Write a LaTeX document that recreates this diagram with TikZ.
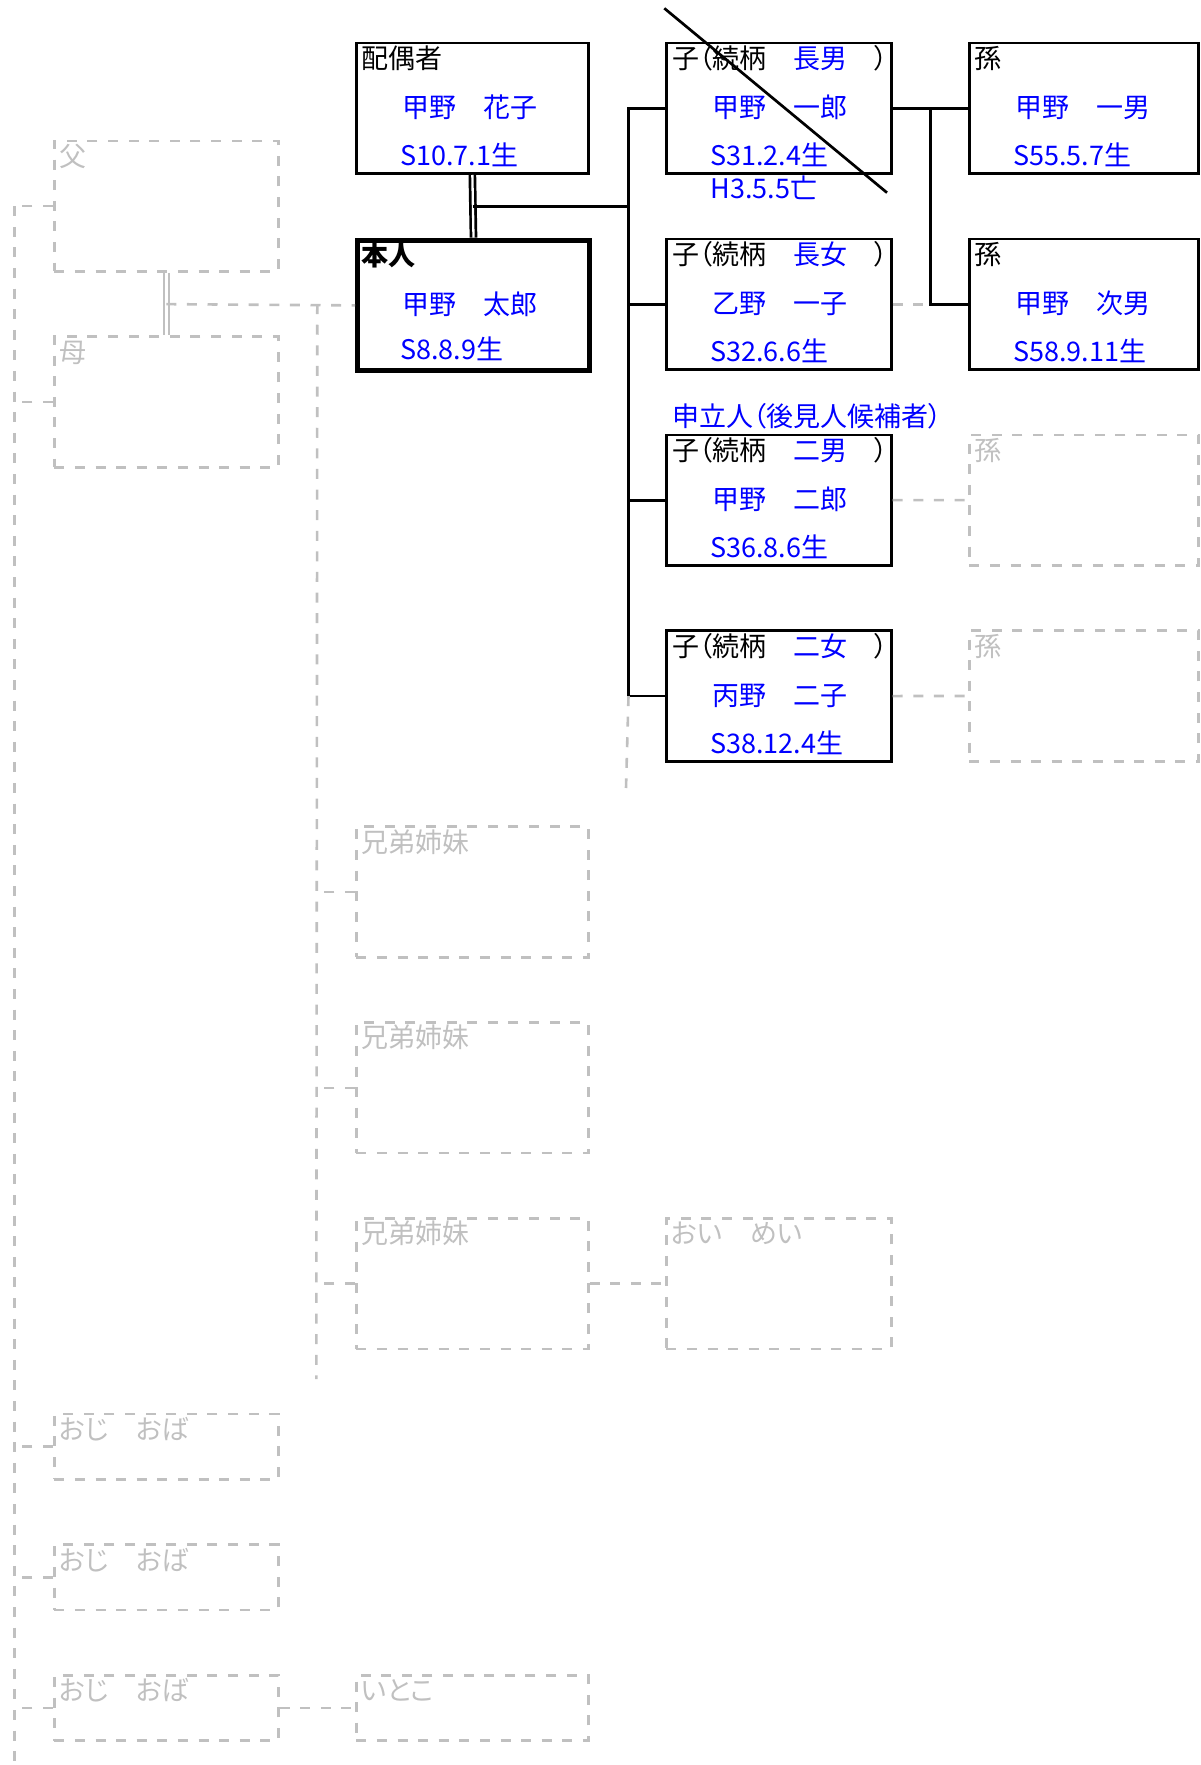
\documentclass[tikz,border=0pt]{standalone}
\usepackage{fontspec}
\setmainfont{Noto Sans CJK JP}[RawFeature=+palt]
\usetikzlibrary{calc}
\definecolor{linegray}{RGB}{192,192,192}
\tikzset{
  box/.style={draw,line width=1.35pt,anchor=north west,inner sep=0pt,minimum height=65.3pt},
  selfbox/.style={box,line width=2.5pt},
  gbox/.style={box,draw=linegray,line width=1.3pt,dash pattern=on 5pt off 5.3pt},
  halfbox/.style={minimum height=32.65pt},
  colA/.style={minimum width=112pt},
  colB/.style={minimum width=116pt},
  colC/.style={minimum width=112.5pt},
  colD/.style={minimum width=114.5pt},
  tag/.style={anchor=west,inner sep=0pt,text height=0.92em,text depth=0pt},
  gtag/.style={tag,text=linegray},
  nm/.style={tag,text=blue},
  link/.style={line width=1.35pt},
  glink/.style={draw=linegray,line width=1.3pt,dash pattern=on 5pt off 5.3pt},
  wedlink/.style={line width=1.35pt,double,double distance=1.15pt},
  gwedlink/.style={draw=linegray,line width=1.15pt,double,double distance=1.2pt}
}
\begin{document}
\begin{tikzpicture}[x=0.5pt,y=-0.5pt,font=\fontsize{13.5pt}{16pt}\selectfont]
 \useasboundingbox (0,0) rectangle (1200,1765);
 % spouse and self
 \node[box,colB] (spouse) at (355,41.7) {};
 \node[tag] (spouse-t) at ([shift={(6,17.5)}]spouse.north west) {配偶者};
 \node[nm] (spouse-n) at ([shift={(47,0)}]spouse.west) {甲野　花子};
 \node[nm] (spouse-d) at ([shift={(45,115)}]spouse.north west) {S10.7.1生};
 \node[selfbox,colB] (self) at (355,237.6) {};
 \node[tag] (self-t) at ([shift={(6,18.5)}]self.north west) {\bfseries 本人};
 \node[nm] (self-n) at ([shift={(47,0)}]self.west) {甲野　太郎};
 \node[nm] (self-d) at ([shift={(45,113)}]self.north west) {S8.8.9生};
 % children
 \node[box,colC] (kid1) at (665,41.7) {};
 \node[tag] (kid1-t) at ([shift={(7,17.5)}]kid1.north west) {子（続柄　\textcolor{blue}{長男}　）};
 \node[nm] (kid1-n) at ([shift={(47,0)}]kid1.west) {甲野　一郎};
 \node[nm] (kid1-d) at ([shift={(45,115)}]kid1.north west) {S31.2.4生};
 \node[nm] (kid1-x) at ([shift={(45,148)}]kid1.north west) {H3.5.5亡};
 \node[box,colC] (kid2) at (665,237.6) {};
 \node[tag] (kid2-t) at ([shift={(7,17.5)}]kid2.north west) {子（続柄　\textcolor{blue}{長女}　）};
 \node[nm] (kid2-n) at ([shift={(47,0)}]kid2.west) {乙野　一子};
 \node[nm] (kid2-d) at ([shift={(45,115)}]kid2.north west) {S32.6.6生};
 \node[box,colC] (kid3) at (665,433.5) {};
 \node[nm] (kid3-a) at ([shift={(7,-16)}]kid3.north west) {申立人（後見人候補者）};
 \node[tag] (kid3-t) at ([shift={(7,17.5)}]kid3.north west) {子（続柄　\textcolor{blue}{二男}　）};
 \node[nm] (kid3-n) at ([shift={(47,0)}]kid3.west) {甲野　二郎};
 \node[nm] (kid3-d) at ([shift={(45,115)}]kid3.north west) {S36.8.6生};
 \node[box,colC] (kid4) at (665,629.4) {};
 \node[tag] (kid4-t) at ([shift={(7,17.5)}]kid4.north west) {子（続柄　\textcolor{blue}{二女}　）};
 \node[nm] (kid4-n) at ([shift={(47,0)}]kid4.west) {丙野　二子};
 \node[nm] (kid4-d) at ([shift={(45,115)}]kid4.north west) {S38.12.4生};
 % grandchildren
 \node[box,colD] (gc1) at (968,41.7) {};
 \node[tag] (gc1-t) at ([shift={(6,17.5)}]gc1.north west) {孫};
 \node[nm] (gc1-n) at ([shift={(47,0)}]gc1.west) {甲野　一男};
 \node[nm] (gc1-d) at ([shift={(45,115)}]gc1.north west) {S55.5.7生};
 \node[box,colD] (gc2) at (968,237.6) {};
 \node[tag] (gc2-t) at ([shift={(6,17.5)}]gc2.north west) {孫};
 \node[nm] (gc2-n) at ([shift={(47,0)}]gc2.west) {甲野　次男};
 \node[nm] (gc2-d) at ([shift={(45,115)}]gc2.north west) {S58.9.11生};
 \node[gbox,colD] (gc3) at (968,433.5) {};
 \node[gtag] (gc3-t) at ([shift={(6,17.5)}]gc3.north west) {孫};
 \node[gbox,colD] (gc4) at (968,629.4) {};
 \node[gtag] (gc4-t) at ([shift={(6,17.5)}]gc4.north west) {孫};
 % parents, siblings, uncles (empty)
 \node[gbox,colA] (father) at (53,139.6) {};
 \node[gtag] (father-t) at ([shift={(6,17.5)}]father.north west) {父};
 \node[gbox,colA] (mother) at (53,335.5) {};
 \node[gtag] (mother-t) at ([shift={(6,17.5)}]mother.north west) {母};
 \node[gbox,colB] (sib1) at (355,825.3) {};
 \node[gtag] (sib1-t) at ([shift={(6,17.5)}]sib1.north west) {兄弟姉妹};
 \node[gbox,colB] (sib2) at (355,1021.2) {};
 \node[gtag] (sib2-t) at ([shift={(6,17.5)}]sib2.north west) {兄弟姉妹};
 \node[gbox,colB] (sib3) at (355,1217.1) {};
 \node[gtag] (sib3-t) at ([shift={(6,17.5)}]sib3.north west) {兄弟姉妹};
 \node[gbox,colC] (nephew) at (665,1217.1) {};
 \node[gtag] (nephew-t) at ([shift={(6,17.5)}]nephew.north west) {おい　めい};
 \node[gbox,colA,halfbox] (unc1) at (53,1412.8) {};
 \node[gtag] (unc1-t) at ([shift={(6,17.5)}]unc1.north west) {おじ　おば};
 \node[gbox,colA,halfbox] (unc2) at (53,1543.3) {};
 \node[gtag] (unc2-t) at ([shift={(6,17.5)}]unc2.north west) {おじ　おば};
 \node[gbox,colA,halfbox] (unc3) at (53,1673.9) {};
 \node[gtag] (unc3-t) at ([shift={(6,17.5)}]unc3.north west) {おじ　おば};
 \node[gbox,colB,halfbox] (cousin) at (355,1673.9) {};
 \node[gtag] (cousin-t) at ([shift={(6,17.5)}]cousin.north west) {いとこ};
 % helper points
 \coordinate (wed) at ($(spouse.south)!.5!(self.north)$);
 \coordinate (trunk) at ($(self.east)!.5!(kid1.west)$);
 \coordinate (trunkend) at (626,788);
 \coordinate (gtrunk) at ($(kid1.east)!.5!(gc1.west)$);
 \coordinate (pwed) at ($(father.south)!.5!(mother.north)$);
 \coordinate (sibx) at ($(father.east)!.5!(self.west)$);
 \coordinate (sibend) at (316.3,1379);
 \coordinate (leftx) at (14.6,1765);
 \coordinate (slashA) at (664.3,8.3);
 \coordinate (slashB) at (887,192.7);
 % own family
 \draw[wedlink] (spouse.south) -- (self.north);
 \draw[link] (wed) -- (wed -| trunk);
 \draw[link] (kid1.west) -- (kid1.west -| trunk) -- (kid4.west -| trunk) -- (kid4.west);
 \draw[link] (kid2.west) -- (kid2.west -| trunk);
 \draw[link] (kid3.west) -- (kid3.west -| trunk);
 \draw[glink] (kid4.west -| trunk) -- (trunkend);
 \draw[link] (kid1.east) -- (gc1.west);
 \draw[link] (kid1.east -| gtrunk) |- (gc2.west);
 \draw[glink] (kid2.east) -- (kid2.east -| gtrunk);
 \draw[glink] (kid3.east) -- (gc3.west);
 \draw[glink] (kid4.east) -- (gc4.west);
 \draw[link] (slashA) -- (slashB);
 % parents side
 \draw[gwedlink] (father.south) -- (mother.north);
 \draw[glink] (pwed) -- (self.west);
 \draw[glink] (pwed -| sibx) -- (sibend);
 \draw[glink] (sib1.west) -- (sib1.west -| sibx);
 \draw[glink] (sib2.west) -- (sib2.west -| sibx);
 \draw[glink] (sib3.west) -- (sib3.west -| sibx);
 \draw[glink] (sib3.east) -- (nephew.west);
 \draw[glink] (father.west -| leftx) -- (leftx);
 \draw[glink] (father.west) -- (father.west -| leftx);
 \draw[glink] (mother.west) -- (mother.west -| leftx);
 \draw[glink] (unc1.west) -- (unc1.west -| leftx);
 \draw[glink] (unc2.west) -- (unc2.west -| leftx);
 \draw[glink] (unc3.west) -- (unc3.west -| leftx);
 \draw[glink] (unc3.east) -- (cousin.west);
\end{tikzpicture}
\end{document}
